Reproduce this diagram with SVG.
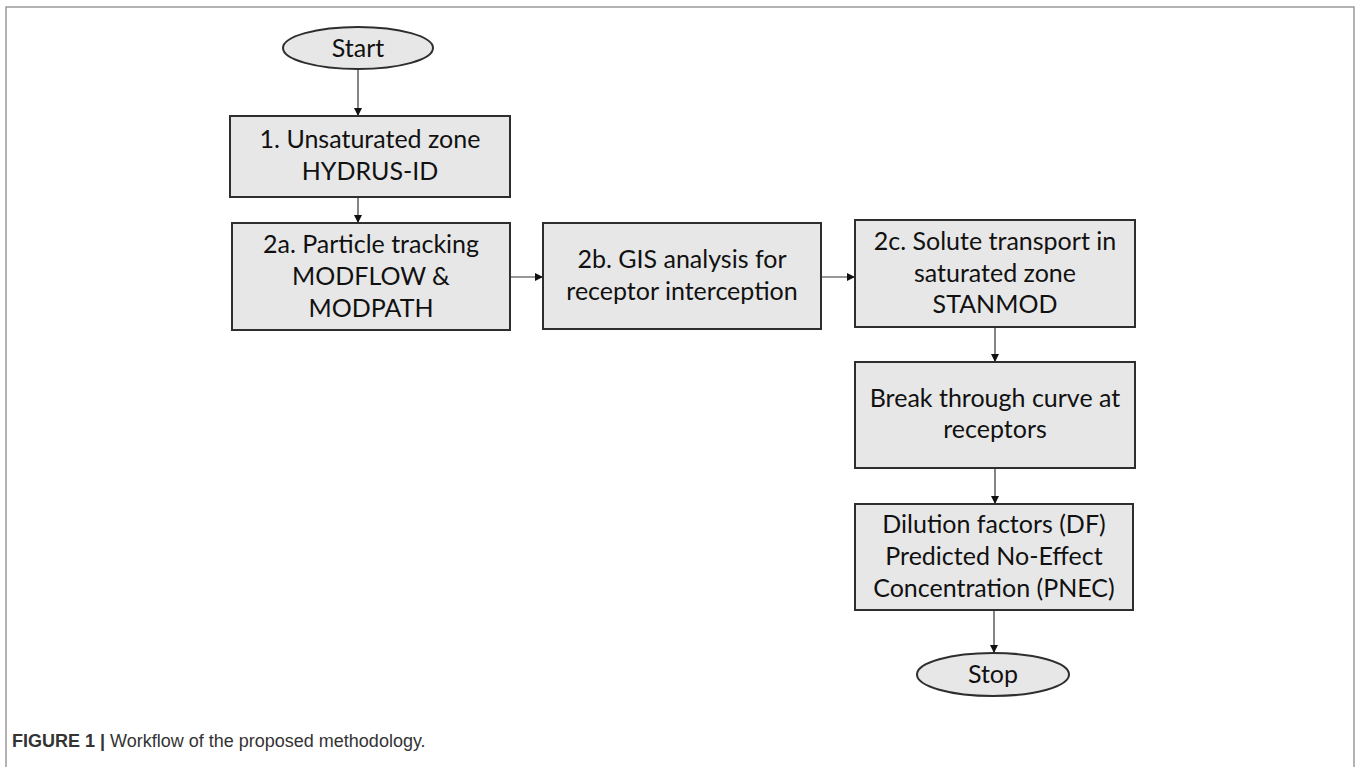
<svg xmlns="http://www.w3.org/2000/svg" width="1360" height="767" viewBox="0 0 1360 767">
<defs>
<style>
.box{fill:#e7e7e7;stroke:#2e2e2e;stroke-width:2}
.t{font-family:Lato,"Open Sans",sans-serif;font-size:25px;fill:#111;text-anchor:middle}
.c{stroke:#333;stroke-width:1.2;fill:none;marker-end:url(#ah)}
.cap{font-family:"Liberation Sans",Arial,sans-serif;font-size:18px;fill:#333}
</style>
<marker id="ah" viewBox="0 0 10 10" refX="10" refY="5" markerWidth="8" markerHeight="8" markerUnits="userSpaceOnUse" orient="auto">
<path d="M0,0 L10,5 L0,10 z" fill="#111"/>
</marker>
</defs>
<rect width="1360" height="767" fill="#fff"/>
<path d="M6,767 V7 H1354 V767" fill="none" stroke="#9a9a9a" stroke-width="1.5"/>

<g id="connectors">
<line class="c" x1="358" y1="69" x2="358" y2="116"/>
<line class="c" x1="358" y1="197" x2="358" y2="223"/>
<line class="c" x1="510" y1="277" x2="543" y2="277"/>
<line class="c" x1="821" y1="277" x2="855" y2="277"/>
<line class="c" x1="995" y1="327" x2="995" y2="362"/>
<line class="c" x1="995" y1="468" x2="995" y2="504"/>
<line class="c" x1="994" y1="610" x2="994" y2="653"/>
</g>

<g id="start">
<ellipse class="box" cx="358" cy="48" rx="75" ry="21" stroke-width="1.5"/>
<text class="t" x="358" y="57">Start</text>
</g>

<g id="step1">
<rect class="box" x="230" y="116" width="280" height="81"/>
<text class="t" x="370" y="148">1. Unsaturated zone</text>
<text class="t" x="370" y="180">HYDRUS-ID</text>
</g>

<g id="step2a">
<rect class="box" x="232" y="223" width="278" height="107"/>
<text class="t" x="371" y="253">2a. Particle tracking</text>
<text class="t" x="371" y="285">MODFLOW &amp;</text>
<text class="t" x="371" y="317">MODPATH</text>
</g>

<g id="step2b">
<rect class="box" x="543" y="223" width="278" height="106"/>
<text class="t" x="682" y="268">2b. GIS analysis for</text>
<text class="t" x="682" y="300">receptor interception</text>
</g>

<g id="step2c">
<rect class="box" x="855" y="220" width="280" height="107"/>
<text class="t" x="995" y="250">2c. Solute transport in</text>
<text class="t" x="995" y="282">saturated zone</text>
<text class="t" x="995" y="313">STANMOD</text>
</g>

<g id="breakthrough">
<rect class="box" x="855" y="362" width="280" height="106"/>
<text class="t" x="995" y="407">Break through curve at</text>
<text class="t" x="995" y="438">receptors</text>
</g>

<g id="dilution">
<rect class="box" x="855" y="504" width="278" height="106"/>
<text class="t" x="994" y="533">Dilution factors (DF)</text>
<text class="t" x="994" y="565">Predicted No-Effect</text>
<text class="t" x="994" y="597">Concentration (PNEC)</text>
</g>

<g id="stop">
<ellipse class="box" cx="993" cy="674.5" rx="76" ry="21.5" stroke-width="1.5"/>
<text class="t" x="993" y="683">Stop</text>
</g>

<g id="caption">
<text class="cap" x="12" y="747"><tspan font-weight="bold">FIGURE 1 |</tspan> Workflow of the proposed methodology.</text>
</g>
</svg>
